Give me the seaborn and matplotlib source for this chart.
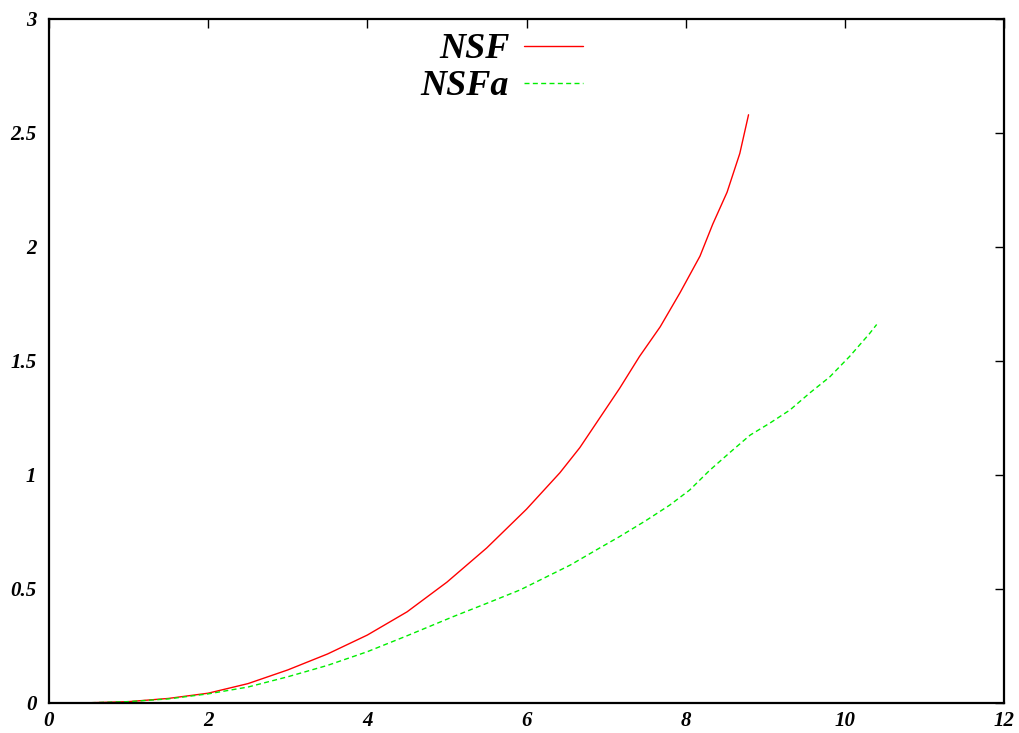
import matplotlib
matplotlib.use("Agg")
import matplotlib.pyplot as plt
import seaborn as sns
import pandas as pd

# NSF curve
nsf_x = [0, 0.5, 1.0, 1.5, 2.0, 2.5, 3.0, 3.5, 4.0, 4.5, 5.0, 5.5, 6.0, 6.42,
         6.67, 6.92, 7.17, 7.42, 7.68, 7.93, 8.18, 8.34, 8.52, 8.68, 8.79]
nsf_y = [0, 0.001, 0.006, 0.02, 0.043, 0.085, 0.145, 0.215, 0.298, 0.40, 0.53,
         0.68, 0.85, 1.01, 1.12, 1.25, 1.38, 1.52, 1.65, 1.80, 1.96, 2.10,
         2.24, 2.41, 2.58]

# NSFa curve
nsfa_x = [0, 0.5, 1.0, 1.5, 2.0, 2.5, 3.0, 3.5, 4.0, 4.5, 5.08, 5.5, 5.92,
          6.55, 6.92, 7.17, 7.5, 7.80, 8.05, 8.30, 8.56, 8.81, 9.06, 9.31,
          9.56, 9.81, 10.06, 10.31, 10.40]
nsfa_y = [0, 0.001, 0.006, 0.018, 0.040, 0.07, 0.115, 0.165, 0.225, 0.295,
          0.379, 0.437, 0.496, 0.605, 0.68, 0.73, 0.80, 0.868, 0.934, 1.02,
          1.10, 1.175, 1.228, 1.285, 1.36, 1.43, 1.52, 1.62, 1.66]

x_ticks = [0, 2, 4, 6, 8, 10, 12]
y_ticks = [0, 0.5, 1, 1.5, 2, 2.5, 3]
y_tick_labels = ["0", "0.5", "1", "1.5", "2", "2.5", "3"]

sns.set_style("white")
plt.rcParams["font.family"] = ["Liberation Serif", "DejaVu Serif"]
plt.rcParams["text.color"] = "black"
plt.rcParams["xtick.color"] = "black"
plt.rcParams["ytick.color"] = "black"

df_nsf = pd.DataFrame({"x": nsf_x, "y": nsf_y})
df_nsfa = pd.DataFrame({"x": nsfa_x, "y": nsfa_y})

fig = plt.figure(figsize=(10.19, 7.33), dpi=100)
ax = fig.add_axes([49 / 1019, 1 - 703 / 733, (1004 - 49) / 1019, (703 - 19) / 733])

sns.lineplot(data=df_nsf, x="x", y="y", ax=ax, color="#ff0000", linewidth=1.0,
             label="NSF", sort=False)
sns.lineplot(data=df_nsfa, x="x", y="y", ax=ax, color="#00ee00", linewidth=1.0,
             linestyle=(0, (3.6, 2.4)), label="NSFa", sort=False)

ax.set_xlim(0, 12)
ax.set_ylim(0, 3)
ax.set_xticks(x_ticks)
ax.set_xticklabels([str(t) for t in x_ticks])
ax.set_yticks(y_ticks)
ax.set_yticklabels(y_tick_labels)
ax.set_xlabel("")
ax.set_ylabel("")

ax.tick_params(axis="both", which="both", direction="in", length=6.5, width=1.0,
               colors="black", top=True, right=True, labelsize=15)
ax.tick_params(axis="x", pad=6)
ax.tick_params(axis="y", pad=9)
for lab in ax.get_xticklabels() + ax.get_yticklabels():
    lab.set_fontweight("bold")
    lab.set_fontstyle("italic")
    lab.set_color("black")

for sp in ax.spines.values():
    sp.set_visible(True)
    sp.set_color("black")
    sp.set_linewidth(1.6)

leg = ax.legend(loc="upper center", bbox_to_anchor=(0.474, 1.027), frameon=False,
                markerfirst=False, handlelength=1.63, handletextpad=0.4,
                labelspacing=0.1,
                prop={"family": "Liberation Serif", "weight": "bold",
                      "style": "italic", "size": 26})
for t in leg.get_texts():
    t.set_ha("right")
    t.set_color("black")

fig.savefig("out.png", dpi=100, facecolor="white")
